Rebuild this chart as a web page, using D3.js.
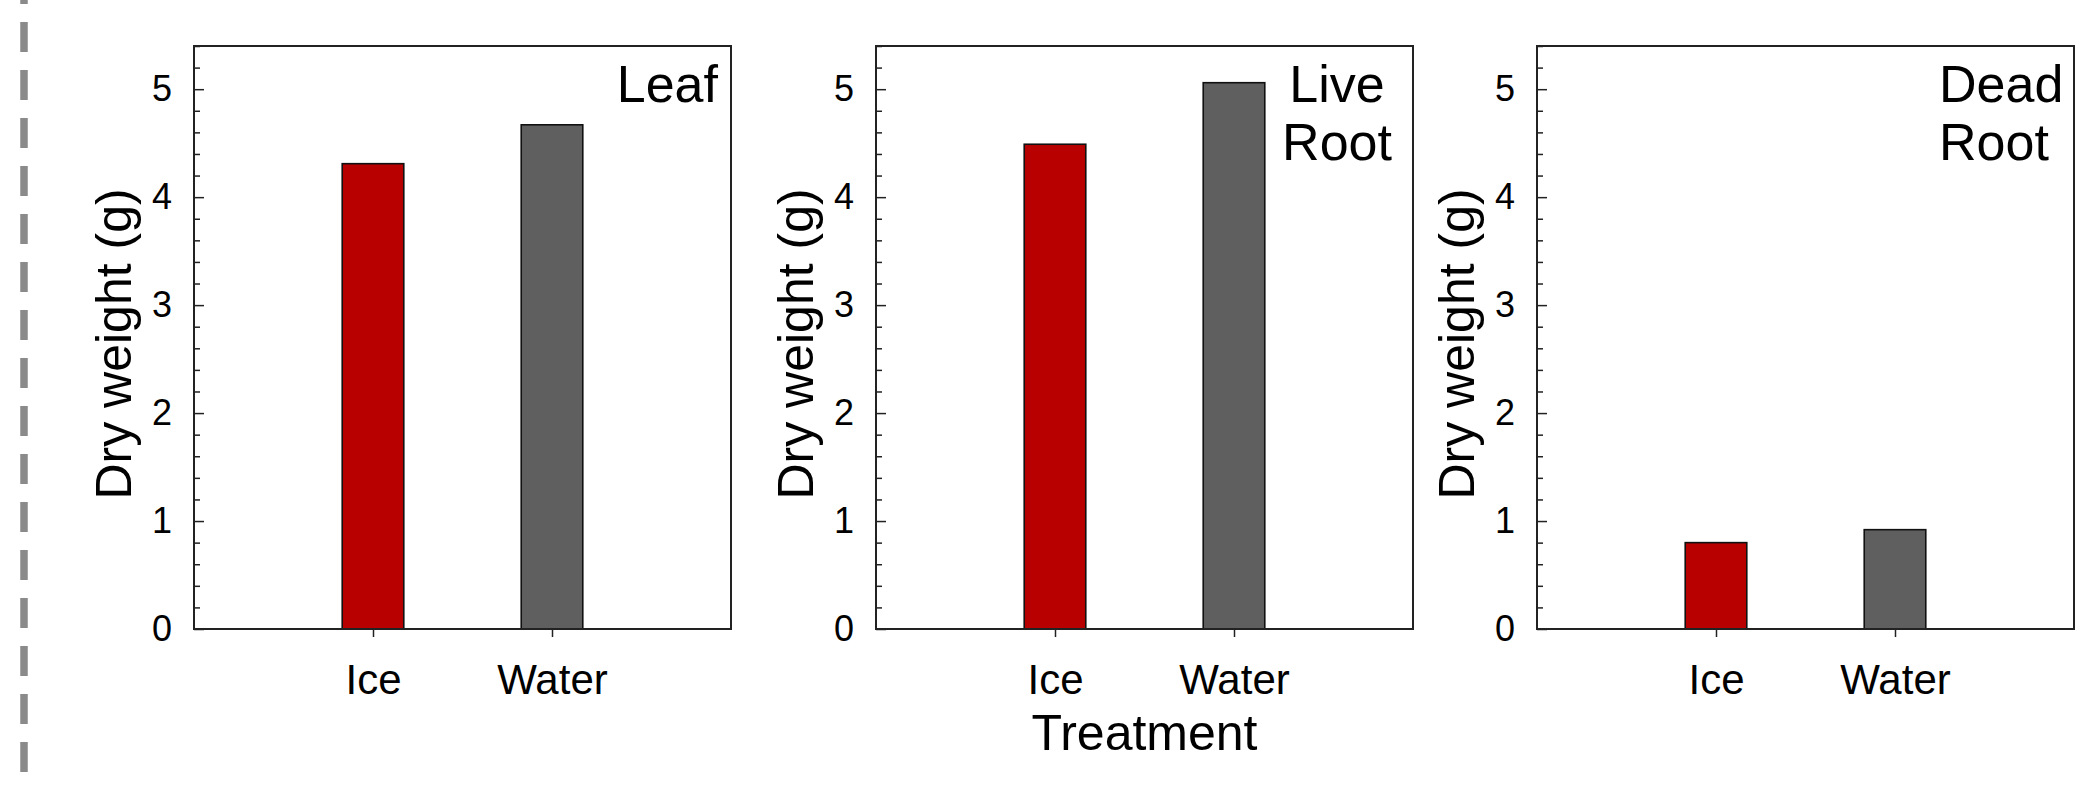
<!DOCTYPE html>
<html>
<head>
<meta charset="utf-8">
<script src="https://cdn.jsdelivr.net/npm/d3@7/dist/d3.min.js"></script>
<style>
  html, body { margin: 0; padding: 0; background: #fff; }
  svg text { font-family: Arial, "Liberation Sans", sans-serif; fill: #000; }
</style>
</head>
<body>
<svg id="chart" width="2098" height="790"></svg>
<script>
// ---- data ----
const categories = ["Ice", "Water"];
const panelNames = ["Leaf", "Live Root", "Dead Root"];
const panelLabelLines = [["Leaf"], ["Live", "Root"], ["Dead", "Root"]];
const iceValues = [4.31, 4.49, 0.80];
const waterValues = [4.67, 5.06, 0.92];
const yTicks = [0, 1, 2, 3, 4, 5];
const yMax = 5.4;
const yLabel = "Dry weight (g)";
const xLabel = "Treatment";

// ---- layout ----
const W = 2098, H = 790;
const panelLeft = [194, 876, 1537];
const panelW = 537;
const plotTop = 46, plotBottom = 629;
const colors = { Ice: "#b80000", Water: "#5f5f5f" };
const labelAlign = [
  { anchor: "end", dx: -13 },
  { anchor: "middle", dx: -76 },
  { anchor: "start", dx: -135 }
];

const svg = d3.select("#chart");

// left dashed separator
svg.append("line")
  .attr("x1", 24).attr("x2", 24)
  .attr("y1", -26).attr("y2", H)
  .attr("stroke", "#8a8a8a")
  .attr("stroke-width", 7.5)
  .attr("stroke-dasharray", "30,18");

const y = d3.scaleLinear().domain([0, yMax]).range([plotBottom, plotTop]);
const minorTicks = d3.range(0, 28).map(i => i / 5).filter(v => v <= yMax && Math.abs(v - Math.round(v)) > 1e-6);

panelNames.forEach((name, pi) => {
  const left = panelLeft[pi];
  const g = svg.append("g").attr("transform", `translate(${left},0)`);
  const x = d3.scalePoint().domain(categories).range([0, panelW]).padding(1);
  const bw = x.step() * 0.344;
  const vals = [iceValues[pi], waterValues[pi]];

  // bars
  g.selectAll("rect.bar").data(categories).join("rect")
    .attr("class", "bar")
    .attr("x", d => x(d) - bw / 2)
    .attr("width", bw)
    .attr("y", (d, i) => y(vals[i]))
    .attr("height", (d, i) => y(0) - y(vals[i]))
    .attr("fill", d => colors[d])
    .attr("stroke", "#111")
    .attr("stroke-width", 1.6);

  // minor y ticks
  const minorAxis = g.append("g")
    .call(d3.axisLeft(y).tickValues(minorTicks).tickSize(-6).tickFormat(""));
  minorAxis.select(".domain").remove();
  minorAxis.selectAll("line").attr("stroke", "#222").attr("stroke-width", 1.5);

  // major y ticks
  const yAxis = g.append("g")
    .call(d3.axisLeft(y).tickValues(yTicks).tickSize(-10).tickPadding(22).tickFormat(d3.format("d")));
  yAxis.select(".domain").remove();
  yAxis.selectAll("line").attr("stroke", "#222").attr("stroke-width", 1.5);
  yAxis.selectAll("text").attr("font-size", 36).attr("fill", "#000")
    .style("font-family", 'Arial, "Liberation Sans", sans-serif');

  // x axis
  const xAxis = g.append("g").attr("transform", `translate(0,${plotBottom})`)
    .call(d3.axisBottom(x).tickSize(8).tickPadding(27));
  xAxis.select(".domain").remove();
  xAxis.selectAll("line").attr("stroke", "#222").attr("stroke-width", 1.5);
  xAxis.selectAll("text").attr("font-size", 42).attr("fill", "#000")
    .style("font-family", 'Arial, "Liberation Sans", sans-serif');

  // frame
  g.append("rect")
    .attr("x", 0).attr("y", plotTop)
    .attr("width", panelW).attr("height", plotBottom - plotTop)
    .attr("fill", "none")
    .attr("stroke", "#222")
    .attr("stroke-width", 2);

  // panel label
  const al = labelAlign[pi];
  const lt = g.append("text")
    .attr("text-anchor", al.anchor)
    .attr("font-size", 52);
  panelLabelLines[pi].forEach((line, li) => {
    lt.append("tspan")
      .attr("x", panelW + al.dx)
      .attr("y", 102 + li * 58)
      .text(line);
  });

  // y axis title
  g.append("text")
    .attr("transform", `translate(${-80},${344}) rotate(-90)`)
    .attr("text-anchor", "middle")
    .attr("dominant-baseline", "central")
    .attr("font-size", 50)
    .text(yLabel);
});

// x axis title
svg.append("text")
  .attr("x", panelLeft[1] + panelW / 2)
  .attr("y", 750)
  .attr("text-anchor", "middle")
  .attr("font-size", 50)
  .text(xLabel);
</script>
</body>
</html>
